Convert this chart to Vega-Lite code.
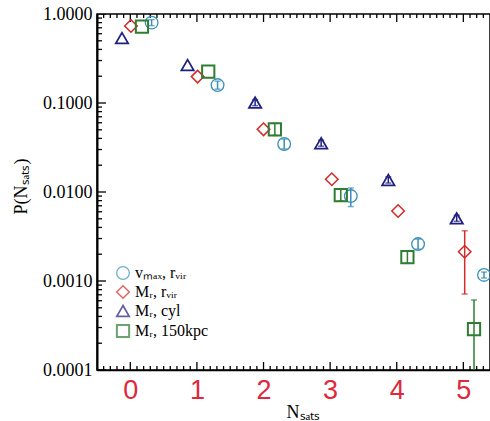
{
  "$schema": "https://vega.github.io/schema/vega-lite/v6.json",
  "autosize": "none",
  "width": 393,
  "height": 356,
  "padding": {"left": 97, "top": 14, "right": 0, "bottom": 51},
  "background": "white",
  "config": {
    "view": {"stroke": "black", "strokeWidth": 1.5},
    "font": "Liberation Serif",
    "legend": {"symbolFillColor": "transparent"}
  },
  "datasets": {
    "pts": [
      {"series": "vₘₐₓ, rᵥᵢᵣ", "n": 0.32, "p": 0.80, "lo": 0.74, "hi": 0.865},
      {"series": "vₘₐₓ, rᵥᵢᵣ", "n": 1.31, "p": 0.159, "lo": 0.143, "hi": 0.176},
      {"series": "vₘₐₓ, rᵥᵢᵣ", "n": 2.31, "p": 0.0346, "lo": 0.0304, "hi": 0.0394},
      {"series": "vₘₐₓ, rᵥᵢᵣ", "n": 3.31, "p": 0.0090, "lo": 0.00686, "hi": 0.0111},
      {"series": "vₘₐₓ, rᵥᵢᵣ", "n": 4.32, "p": 0.0026, "lo": 0.00228, "hi": 0.00296},
      {"series": "vₘₐₓ, rᵥᵢᵣ", "n": 5.31, "p": 0.00117, "lo": 0.00108, "hi": 0.00126},
      {"series": "Mᵣ, rᵥᵢᵣ", "n": 0.01, "p": 0.733},
      {"series": "Mᵣ, rᵥᵢᵣ", "n": 1.01, "p": 0.198},
      {"series": "Mᵣ, rᵥᵢᵣ", "n": 2.0, "p": 0.0506},
      {"series": "Mᵣ, rᵥᵢᵣ", "n": 3.025, "p": 0.0139},
      {"series": "Mᵣ, rᵥᵢᵣ", "n": 4.02, "p": 0.00612},
      {"series": "Mᵣ, rᵥᵢᵣ", "n": 5.02, "p": 0.00213, "lo": 0.000714, "hi": 0.00367},
      {"series": "Mᵣ, cyl", "n": -0.125, "p": 0.537},
      {"series": "Mᵣ, cyl", "n": 0.86, "p": 0.267},
      {"series": "Mᵣ, cyl", "n": 1.874, "p": 0.101, "lo": 0.0934, "hi": 0.109},
      {"series": "Mᵣ, cyl", "n": 2.865, "p": 0.0353, "lo": 0.0327, "hi": 0.0382},
      {"series": "Mᵣ, cyl", "n": 3.873, "p": 0.01364, "lo": 0.0126, "hi": 0.01475},
      {"series": "Mᵣ, cyl", "n": 4.9, "p": 0.00506, "lo": 0.00468, "hi": 0.00547},
      {"series": "Mᵣ, 150kpc", "n": 0.175, "p": 0.72},
      {"series": "Mᵣ, 150kpc", "n": 1.17, "p": 0.225},
      {"series": "Mᵣ, 150kpc", "n": 2.17, "p": 0.0506, "lo": 0.0433, "hi": 0.0591},
      {"series": "Mᵣ, 150kpc", "n": 3.16, "p": 0.00925, "lo": 0.00792, "hi": 0.0108},
      {"series": "Mᵣ, 150kpc", "n": 4.16, "p": 0.00185, "lo": 0.00158, "hi": 0.00216},
      {"series": "Mᵣ, 150kpc", "n": 5.16, "p": 0.000287, "lo": 0.00005, "hi": 0.000612}
    ],
    "xticks": [
      {"t": -0.4, "a": 0.0001, "b": 0.000111}, {"t": -0.3, "a": 0.0001, "b": 0.000111}, {"t": -0.2, "a": 0.0001, "b": 0.000111}, {"t": -0.1, "a": 0.0001, "b": 0.000111},
      {"t": 0, "a": 0.0001, "b": 0.000123},
      {"t": 0.1, "a": 0.0001, "b": 0.000111}, {"t": 0.2, "a": 0.0001, "b": 0.000111}, {"t": 0.3, "a": 0.0001, "b": 0.000111}, {"t": 0.4, "a": 0.0001, "b": 0.000111}, {"t": 0.5, "a": 0.0001, "b": 0.000111}, {"t": 0.6, "a": 0.0001, "b": 0.000111}, {"t": 0.7, "a": 0.0001, "b": 0.000111}, {"t": 0.8, "a": 0.0001, "b": 0.000111}, {"t": 0.9, "a": 0.0001, "b": 0.000111},
      {"t": 1, "a": 0.0001, "b": 0.000123},
      {"t": 1.1, "a": 0.0001, "b": 0.000111}, {"t": 1.2, "a": 0.0001, "b": 0.000111}, {"t": 1.3, "a": 0.0001, "b": 0.000111}, {"t": 1.4, "a": 0.0001, "b": 0.000111}, {"t": 1.5, "a": 0.0001, "b": 0.000111}, {"t": 1.6, "a": 0.0001, "b": 0.000111}, {"t": 1.7, "a": 0.0001, "b": 0.000111}, {"t": 1.8, "a": 0.0001, "b": 0.000111}, {"t": 1.9, "a": 0.0001, "b": 0.000111},
      {"t": 2, "a": 0.0001, "b": 0.000123},
      {"t": 2.1, "a": 0.0001, "b": 0.000111}, {"t": 2.2, "a": 0.0001, "b": 0.000111}, {"t": 2.3, "a": 0.0001, "b": 0.000111}, {"t": 2.4, "a": 0.0001, "b": 0.000111}, {"t": 2.5, "a": 0.0001, "b": 0.000111}, {"t": 2.6, "a": 0.0001, "b": 0.000111}, {"t": 2.7, "a": 0.0001, "b": 0.000111}, {"t": 2.8, "a": 0.0001, "b": 0.000111}, {"t": 2.9, "a": 0.0001, "b": 0.000111},
      {"t": 3, "a": 0.0001, "b": 0.000123},
      {"t": 3.1, "a": 0.0001, "b": 0.000111}, {"t": 3.2, "a": 0.0001, "b": 0.000111}, {"t": 3.3, "a": 0.0001, "b": 0.000111}, {"t": 3.4, "a": 0.0001, "b": 0.000111}, {"t": 3.5, "a": 0.0001, "b": 0.000111}, {"t": 3.6, "a": 0.0001, "b": 0.000111}, {"t": 3.7, "a": 0.0001, "b": 0.000111}, {"t": 3.8, "a": 0.0001, "b": 0.000111}, {"t": 3.9, "a": 0.0001, "b": 0.000111},
      {"t": 4, "a": 0.0001, "b": 0.000123},
      {"t": 4.1, "a": 0.0001, "b": 0.000111}, {"t": 4.2, "a": 0.0001, "b": 0.000111}, {"t": 4.3, "a": 0.0001, "b": 0.000111}, {"t": 4.4, "a": 0.0001, "b": 0.000111}, {"t": 4.5, "a": 0.0001, "b": 0.000111}, {"t": 4.6, "a": 0.0001, "b": 0.000111}, {"t": 4.7, "a": 0.0001, "b": 0.000111}, {"t": 4.8, "a": 0.0001, "b": 0.000111}, {"t": 4.9, "a": 0.0001, "b": 0.000111},
      {"t": 5, "a": 0.0001, "b": 0.000123},
      {"t": 5.1, "a": 0.0001, "b": 0.000111}, {"t": 5.2, "a": 0.0001, "b": 0.000111}, {"t": 5.3, "a": 0.0001, "b": 0.000111},
      {"t": -0.4, "a": 1, "b": 0.902}, {"t": -0.3, "a": 1, "b": 0.902}, {"t": -0.2, "a": 1, "b": 0.902}, {"t": -0.1, "a": 1, "b": 0.902},
      {"t": 0, "a": 1, "b": 0.813},
      {"t": 0.1, "a": 1, "b": 0.902}, {"t": 0.2, "a": 1, "b": 0.902}, {"t": 0.3, "a": 1, "b": 0.902}, {"t": 0.4, "a": 1, "b": 0.902}, {"t": 0.5, "a": 1, "b": 0.902}, {"t": 0.6, "a": 1, "b": 0.902}, {"t": 0.7, "a": 1, "b": 0.902}, {"t": 0.8, "a": 1, "b": 0.902}, {"t": 0.9, "a": 1, "b": 0.902},
      {"t": 1, "a": 1, "b": 0.813},
      {"t": 1.1, "a": 1, "b": 0.902}, {"t": 1.2, "a": 1, "b": 0.902}, {"t": 1.3, "a": 1, "b": 0.902}, {"t": 1.4, "a": 1, "b": 0.902}, {"t": 1.5, "a": 1, "b": 0.902}, {"t": 1.6, "a": 1, "b": 0.902}, {"t": 1.7, "a": 1, "b": 0.902}, {"t": 1.8, "a": 1, "b": 0.902}, {"t": 1.9, "a": 1, "b": 0.902},
      {"t": 2, "a": 1, "b": 0.813},
      {"t": 2.1, "a": 1, "b": 0.902}, {"t": 2.2, "a": 1, "b": 0.902}, {"t": 2.3, "a": 1, "b": 0.902}, {"t": 2.4, "a": 1, "b": 0.902}, {"t": 2.5, "a": 1, "b": 0.902}, {"t": 2.6, "a": 1, "b": 0.902}, {"t": 2.7, "a": 1, "b": 0.902}, {"t": 2.8, "a": 1, "b": 0.902}, {"t": 2.9, "a": 1, "b": 0.902},
      {"t": 3, "a": 1, "b": 0.813},
      {"t": 3.1, "a": 1, "b": 0.902}, {"t": 3.2, "a": 1, "b": 0.902}, {"t": 3.3, "a": 1, "b": 0.902}, {"t": 3.4, "a": 1, "b": 0.902}, {"t": 3.5, "a": 1, "b": 0.902}, {"t": 3.6, "a": 1, "b": 0.902}, {"t": 3.7, "a": 1, "b": 0.902}, {"t": 3.8, "a": 1, "b": 0.902}, {"t": 3.9, "a": 1, "b": 0.902},
      {"t": 4, "a": 1, "b": 0.813},
      {"t": 4.1, "a": 1, "b": 0.902}, {"t": 4.2, "a": 1, "b": 0.902}, {"t": 4.3, "a": 1, "b": 0.902}, {"t": 4.4, "a": 1, "b": 0.902}, {"t": 4.5, "a": 1, "b": 0.902}, {"t": 4.6, "a": 1, "b": 0.902}, {"t": 4.7, "a": 1, "b": 0.902}, {"t": 4.8, "a": 1, "b": 0.902}, {"t": 4.9, "a": 1, "b": 0.902},
      {"t": 5, "a": 1, "b": 0.813},
      {"t": 5.1, "a": 1, "b": 0.902}, {"t": 5.2, "a": 1, "b": 0.902}, {"t": 5.3, "a": 1, "b": 0.902}
    ],
    "yticks": [
      {"t": 0.0001, "a": -0.5, "b": -0.365},
      {"t": 0.0002, "a": -0.5, "b": -0.425}, {"t": 0.0003, "a": -0.5, "b": -0.425}, {"t": 0.0004, "a": -0.5, "b": -0.425}, {"t": 0.0005, "a": -0.5, "b": -0.425}, {"t": 0.0006, "a": -0.5, "b": -0.425}, {"t": 0.0007, "a": -0.5, "b": -0.425}, {"t": 0.0008, "a": -0.5, "b": -0.425}, {"t": 0.0009, "a": -0.5, "b": -0.425},
      {"t": 0.001, "a": -0.5, "b": -0.365},
      {"t": 0.002, "a": -0.5, "b": -0.425}, {"t": 0.003, "a": -0.5, "b": -0.425}, {"t": 0.004, "a": -0.5, "b": -0.425}, {"t": 0.005, "a": -0.5, "b": -0.425}, {"t": 0.006, "a": -0.5, "b": -0.425}, {"t": 0.007, "a": -0.5, "b": -0.425}, {"t": 0.008, "a": -0.5, "b": -0.425}, {"t": 0.009, "a": -0.5, "b": -0.425},
      {"t": 0.01, "a": -0.5, "b": -0.365},
      {"t": 0.02, "a": -0.5, "b": -0.425}, {"t": 0.03, "a": -0.5, "b": -0.425}, {"t": 0.04, "a": -0.5, "b": -0.425}, {"t": 0.05, "a": -0.5, "b": -0.425}, {"t": 0.06, "a": -0.5, "b": -0.425}, {"t": 0.07, "a": -0.5, "b": -0.425}, {"t": 0.08, "a": -0.5, "b": -0.425}, {"t": 0.09, "a": -0.5, "b": -0.425},
      {"t": 0.1, "a": -0.5, "b": -0.365},
      {"t": 0.2, "a": -0.5, "b": -0.425}, {"t": 0.3, "a": -0.5, "b": -0.425}, {"t": 0.4, "a": -0.5, "b": -0.425}, {"t": 0.5, "a": -0.5, "b": -0.425}, {"t": 0.6, "a": -0.5, "b": -0.425}, {"t": 0.7, "a": -0.5, "b": -0.425}, {"t": 0.8, "a": -0.5, "b": -0.425}, {"t": 0.9, "a": -0.5, "b": -0.425},
      {"t": 1, "a": -0.5, "b": -0.365}
    ]
  },
  "layer": [
    {
      "data": {"name": "pts"},
      "transform": [{"filter": "isValid(datum.lo)"}],
      "mark": {"type": "rule", "strokeWidth": 1.5, "clip": true},
      "encoding": {
        "x": {"field": "n", "type": "quantitative", "scale": {"domain": [-0.5, 5.4], "nice": false, "zero": false}},
        "y": {"field": "lo", "type": "quantitative", "scale": {"type": "log", "domain": [0.0001, 1], "nice": false}},
        "y2": {"field": "hi"},
        "color": {"field": "series", "type": "nominal"}
      }
    },
    {
      "data": {"name": "pts"},
      "transform": [{"filter": "isValid(datum.lo)"}],
      "mark": {"type": "point", "shape": "M-1,0L1,0", "size": 36, "filled": false, "strokeWidth": 1.5, "clip": true},
      "encoding": {
        "x": {"field": "n", "type": "quantitative"},
        "y": {"field": "hi", "type": "quantitative"},
        "color": {"field": "series", "type": "nominal"}
      }
    },
    {
      "data": {"name": "pts"},
      "transform": [{"filter": "isValid(datum.lo)"}],
      "mark": {"type": "point", "shape": "M-1,0L1,0", "size": 36, "filled": false, "strokeWidth": 1.5, "clip": true},
      "encoding": {
        "x": {"field": "n", "type": "quantitative"},
        "y": {"field": "lo", "type": "quantitative"},
        "color": {"field": "series", "type": "nominal"}
      }
    },
    {
      "data": {"name": "xticks"},
      "mark": {"type": "rule", "strokeWidth": 1.3, "clip": true},
      "encoding": {
        "x": {"field": "t", "type": "quantitative"},
        "y": {"field": "a", "type": "quantitative"},
        "y2": {"field": "b"},
        "stroke": {"value": "black"}
      }
    },
    {
      "data": {"name": "yticks"},
      "mark": {"type": "rule", "strokeWidth": 1.3, "clip": true},
      "encoding": {
        "x": {"field": "a", "type": "quantitative"},
        "x2": {"field": "b"},
        "y": {"field": "t", "type": "quantitative"},
        "stroke": {"value": "black"}
      }
    },
    {
      "data": {"name": "pts"},
      "mark": {"type": "point", "filled": false, "opacity": 1},
      "encoding": {
        "x": {"field": "n", "type": "quantitative", "axis": {
          "orient": "bottom", "values": [0, 1, 2, 3, 4, 5], "format": "d", "grid": false,
          "domainColor": "black", "domainWidth": 1.5,
          "ticks": false, "tickSize": 0,
          "labelOverlap": false, "labelBound": false, "labelFlush": false,
          "labelColor": "#e0283c", "labelFont": "Liberation Sans", "labelFontSize": 27,
          "labelBaseline": "middle", "labelPadding": 20,
          "title": "Nₛₐₜₛ", "titleFont": "Liberation Serif", "titleFontSize": 18, "titleFontWeight": "normal",
          "titleColor": "black", "titleX": 206, "titleY": 47, "titleBaseline": "alphabetic"
        }},
        "y": {"field": "p", "type": "quantitative", "axis": {
          "orient": "left", "values": [0.0001, 0.001, 0.01, 0.1, 1], "grid": false,
          "domainColor": "black", "domainWidth": 2,
          "ticks": false, "tickSize": 0,
          "format": ".4f",
          "labelOverlap": false, "labelBound": false, "labelFlush": false,
          "labelColor": "black", "labelFont": "Liberation Serif", "labelFontSize": 18,
          "labelBaseline": "middle", "labelPadding": 5,
          "title": "P(Nₛₐₜₛ)", "titleFont": "Liberation Serif", "titleFontSize": 18, "titleFontWeight": "normal",
          "titleColor": "black", "titleX": -76, "titleY": 172, "titleAngle": -90, "titleAlign": "center", "titleBaseline": "middle"
        }},
        "color": {"field": "series", "type": "nominal", "title": null,
          "scale": {"domain": ["vₘₐₓ, rᵥᵢᵣ", "Mᵣ, rᵥᵢᵣ", "Mᵣ, cyl", "Mᵣ, 150kpc"], "range": ["#3a8fb7", "#d42a2a", "#1f1f80", "#2e7d32"]},
          "legend": {"orient": "none", "legendX": 18, "legendY": 251, "symbolSize": 55, "symbolStrokeWidth": 1.5,
            "symbolFillColor": "transparent",
            "labelFont": "Liberation Serif", "labelFontSize": 16, "labelColor": "black", "rowPadding": 0, "symbolOffset": 0, "labelOffset": 4}},
        "shape": {"field": "series", "type": "nominal", "title": null,
          "scale": {"domain": ["vₘₐₓ, rᵥᵢᵣ", "Mᵣ, rᵥᵢᵣ", "Mᵣ, cyl", "Mᵣ, 150kpc"], "range": ["circle", "diamond", "triangle-up", "square"]}},
        "size": {"field": "series", "type": "nominal", "legend": null,
          "scale": {"domain": ["vₘₐₓ, rᵥᵢᵣ", "Mᵣ, rᵥᵢᵣ", "Mᵣ, cyl", "Mᵣ, 150kpc"], "range": [160, 150, 210, 196]}},
        "strokeWidth": {"field": "series", "type": "nominal", "legend": null,
          "scale": {"domain": ["vₘₐₓ, rᵥᵢᵣ", "Mᵣ, rᵥᵢᵣ", "Mᵣ, cyl", "Mᵣ, 150kpc"], "range": [1.3, 2, 2, 2]}}
      }
    }
  ]
}
